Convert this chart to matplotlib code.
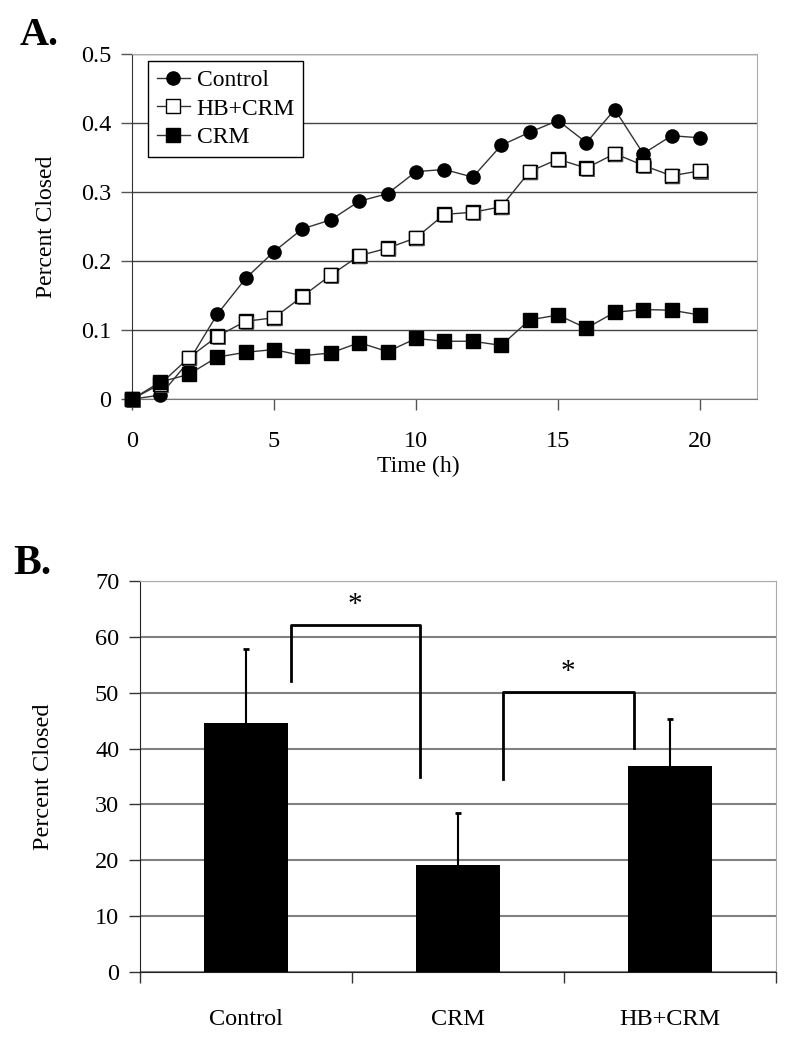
import matplotlib
matplotlib.use('Agg')
import matplotlib.pyplot as plt
import matplotlib.patheffects as pe

plt.rcParams['font.family'] = ['Liberation Serif', 'DejaVu Serif']

# panel A - percent closed over time
hours = list(range(0, 21))
control = [0, 0.006, 0.055, 0.123, 0.175, 0.214, 0.247, 0.26, 0.287, 0.298, 0.33,
           0.333, 0.322, 0.368, 0.387, 0.404, 0.372, 0.42, 0.356, 0.382, 0.379]
hb_crm = [0, 0.022, 0.06, 0.091, 0.113, 0.118, 0.149, 0.18, 0.208, 0.219, 0.234,
          0.268, 0.271, 0.279, 0.33, 0.348, 0.335, 0.356, 0.339, 0.324, 0.331]
crm = [0, 0.025, 0.036, 0.061, 0.068, 0.072, 0.063, 0.067, 0.082, 0.069, 0.088,
       0.084, 0.084, 0.078, 0.115, 0.122, 0.103, 0.126, 0.13, 0.129, 0.122]

# panel B - mean percent closed
groups = ['Control', 'CRM', 'HB+CRM']
means = [44.6, 19.1, 36.8]
errors = [13.2, 9.4, 8.5]
# significance brackets: left x, right x, top, left foot, right foot
brackets = [(0.21, 0.82, 62.2, 52.1, 35.0), (1.21, 1.83, 50.1, 34.6, 40.1)]

fig = plt.figure(figsize=(8, 10.45), dpi=100)

# ---------- A ----------
ax1 = fig.add_axes([0.165, 0.618, 0.781, 0.330])
line_col = '#333333'
ax1.plot(hours, control, color=line_col, lw=1, marker='o', ms=9.5,
         mfc='black', mec='black', label='Control', clip_on=False, zorder=3)
ax1.plot(hours, hb_crm, color=line_col, lw=1, marker='s', ms=9.5,
         mfc='white', mec='black', mew=1, label='HB+CRM', clip_on=False, zorder=3)
ax1.plot(hours, hb_crm, ls='none', marker='s', ms=9.5, mfc='white', mec='black',
         mew=1, clip_on=False, zorder=3,
         path_effects=[pe.SimplePatchShadow(offset=(1.5, -1.5), shadow_rgbFace='#555555', alpha=0.9),
                       pe.Normal()])
ax1.plot(hours, crm, color=line_col, lw=1, marker='s', ms=10,
         mfc='black', mec='black', label='CRM', clip_on=False, zorder=3)

ax1.set_xlim(0, 22)
ax1.set_ylim(0, 0.5)
ax1.set_xticks([0, 5, 10, 15, 20])
yt = [0, 0.1, 0.2, 0.3, 0.4, 0.5]
ax1.set_yticks(yt)
ax1.set_yticklabels(['0' if v == 0 else f'{v:.1f}' for v in yt])
ax1.yaxis.grid(True, color='#444444', lw=1)
ax1.set_axisbelow(True)
ax1.tick_params(axis='both', direction='out', length=8, width=1, color='#555555', labelsize=17.5)
ax1.tick_params(axis='x', pad=15)
ax1.tick_params(axis='y', pad=7)
ax1.spines['left'].set_color('#333333')
ax1.spines['bottom'].set_color('#777777')
for s in ['top', 'right']:
    ax1.spines[s].set_color('#aaaaaa')
ax1.set_xlabel('Time (h)', fontsize=17)
ax1.xaxis.set_label_coords(0.459, -0.165)
ax1.set_ylabel('Percent Closed', fontsize=17)
ax1.yaxis.set_label_coords(-0.12, 0.5)

leg = ax1.legend(loc='upper left', bbox_to_anchor=(0.026, 0.98), borderaxespad=0,
                 fontsize=17, fancybox=False, framealpha=1, edgecolor='black',
                 handlelength=1.4, handletextpad=0.3, labelspacing=0.3, borderpad=0.35)
leg.get_frame().set_linewidth(1)

fig.text(0.024, 0.984, 'A.', fontsize=29, fontweight='bold', va='top', ha='left')

# ---------- B ----------
ax2 = fig.add_axes([0.175, 0.0699, 0.795, 0.374])
x = list(range(len(groups)))
ax2.bar(x, means, width=0.4, color='black', zorder=2)
eb = ax2.errorbar(x, means, yerr=[[0] * len(errors), errors], fmt='none', ecolor='black',
                  elinewidth=1.5, capsize=2.5, capthick=2, zorder=3)
eb[1][0].set_visible(False)  # only the upper caps
for x0, x1, top, f0, f1 in brackets:
    ax2.plot([x0, x0, x1, x1], [f0, top, top, f1], color='black', lw=2, zorder=3)
    ax2.text((x0 + x1) / 2, top + 3.6, '*', fontsize=21, ha='center', va='center')

ax2.set_xlim(-0.5, 2.5)
ax2.set_ylim(0, 70)
ax2.set_yticks(range(0, 71, 10))
ax2.set_xticks(x)
ax2.set_xticklabels(groups)
ax2.set_xticks([-0.5, 0.5, 1.5, 2.5], minor=True)
ax2.tick_params(axis='x', which='major', length=0, pad=27, labelsize=17.5)
ax2.tick_params(axis='x', which='minor', length=8, width=1, color='#333333', direction='out')
ax2.tick_params(axis='y', length=8, width=1, color='#333333', pad=7, labelsize=17.5)
ax2.yaxis.grid(True, color='#808080', lw=1.5)
ax2.set_axisbelow(True)
ax2.spines['left'].set_color('#222222')
ax2.spines['bottom'].set_color('#222222')
for s in ['top', 'right']:
    ax2.spines[s].set_color('#aaaaaa')
ax2.set_ylabel('Percent Closed', fontsize=17.5)
ax2.yaxis.set_label_coords(-0.135, 0.5)

fig.text(0.016, 0.478, 'B.', fontsize=30, fontweight='bold', va='top', ha='left')

fig.savefig('out.png', dpi=100)
